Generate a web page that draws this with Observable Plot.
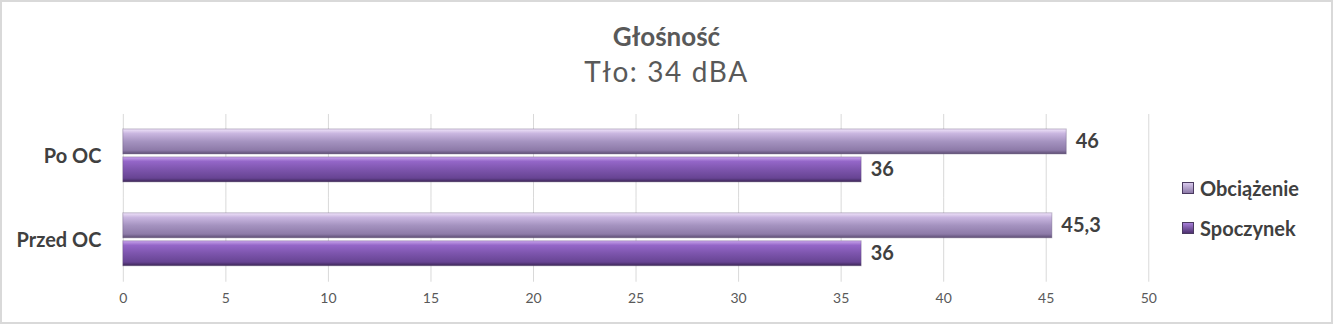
<!DOCTYPE html>
<html>
<head>
<meta charset="utf-8">
<script src="https://cdn.jsdelivr.net/npm/d3@7"></script>
<script src="https://cdn.jsdelivr.net/npm/@observablehq/plot@0.6"></script>
<style>
  body { margin: 0; background: #fff; }
  #wrap { position: relative; width: 1333px; height: 324px; box-sizing: border-box; border: 2px solid #d9d9d9; font-family: Lato, "Open Sans", sans-serif; overflow: hidden; }
  #title { position: absolute; left: 0; width: 100%; top: 18px; text-align: center; font-weight: bold; font-size: 26px; color: #595959; }
  #subtitle { position: absolute; left: 0; width: 100%; top: 52px; text-align: center; font-size: 28px; letter-spacing: 1.6px; color: #595959; }
  #chart { position: absolute; left: -2px; top: 98px; }
  #legend { position: absolute; left: 1180px; top: 166px; font-weight: bold; font-size: 20px; color: #404040; }
  .li { display: flex; align-items: center; height: 40px; }
  .sw { width: 12px; height: 12px; margin-right: 6px; border: 1px solid #4a3a60; box-sizing: border-box; }
</style>
</head>
<body>
<div id="wrap">
  <div id="title">Głośność</div>
  <div id="subtitle">Tło: 34 dBA</div>
  <div id="chart"></div>
  <div id="legend"></div>
</div>
<script>
const categories = ["Po OC", "Przed OC"];
const series = ["Obciążenie", "Spoczynek"];
const obciazenie = [46, 45.3];
const spoczynek = [36, 36];
const xTicks = [0, 5, 10, 15, 20, 25, 30, 35, 40, 45, 50];

const gradIds = {"Obciążenie": "gObc", "Spoczynek": "gSpo"};
const data = [];
categories.forEach((c, i) => {
  data.push({cat: c, series: "Obciążenie", value: obciazenie[i]});
  data.push({cat: c, series: "Spoczynek", value: spoczynek[i]});
});
const fmt = v => String(v).replace(".", ",");

const chart = Plot.plot({
  width: 1333,
  height: 226,
  marginLeft: 123,
  marginRight: 183,
  marginTop: 14,
  marginBottom: 44,
  style: {fontFamily: "Lato, 'Open Sans', sans-serif", background: "transparent"},
  x: {domain: [0, 50], ticks: xTicks, tickSize: 0, tickPadding: 12, tickFormat: d => d, label: null},
  y: {domain: series, axis: null, paddingInner: 0.1, paddingOuter: 0.5},
  fy: {domain: categories, padding: 0, label: null, tickSize: 0, tickPadding: 22},
  marks: [
    Plot.gridX(xTicks, {stroke: "#d9d9d9", strokeOpacity: 1, strokeWidth: 1}),
    Plot.axisX({ticks: xTicks, tickSize: 0, tickPadding: 11, fontSize: 14, color: "#595959", label: null}),
    Plot.axisFy({anchor: "left", tickSize: 0, tickPadding: 22, fontSize: 20, fontWeight: "bold", color: "#404040", label: null}),
    Plot.barX(data, {fy: "cat", y: "series", x1: 0, x2: "value", fill: d => `url(#${gradIds[d.series]})`, stroke: "#5a4a70", strokeOpacity: 0.35}),
    Plot.text(data, {fy: "cat", y: "series", x: "value", text: d => fmt(d.value), dx: 9, textAnchor: "start", fontSize: 20, fontWeight: "bold", fill: "#404040"})
  ]
});

// gradients for the bevelled bar look
const ns = "http://www.w3.org/2000/svg";
const defs = document.createElementNS(ns, "defs");
function grad(id, stops) {
  const g = document.createElementNS(ns, "linearGradient");
  g.setAttribute("id", id);
  g.setAttribute("x1", "0"); g.setAttribute("y1", "0");
  g.setAttribute("x2", "0"); g.setAttribute("y2", "1");
  stops.forEach(([o, c]) => {
    const s = document.createElementNS(ns, "stop");
    s.setAttribute("offset", o); s.setAttribute("stop-color", c);
    g.appendChild(s);
  });
  defs.appendChild(g);
}
grad("gObc", [["0", "#f0e4fa"], ["0.18", "#c9b6e0"], ["0.5", "#a593c0"], ["0.85", "#8d7aa8"], ["1", "#5d4d74"]]);
grad("gSpo", [["0", "#c9a4ec"], ["0.18", "#9466c8"], ["0.5", "#7d55ad"], ["0.85", "#674493"], ["1", "#3c2656"]]);
chart.insertBefore(defs, chart.firstChild);
document.getElementById("chart").appendChild(chart);

// legend
const legend = document.getElementById("legend");
const swFill = {"Obciążenie": "linear-gradient(#d8c8ec, #8d7aa8)", "Spoczynek": "linear-gradient(#a77fd8, #4f3272)"};
series.forEach(s => {
  const row = document.createElement("div");
  row.className = "li";
  const sw = document.createElement("div");
  sw.className = "sw";
  sw.style.background = swFill[s];
  const t = document.createElement("span");
  t.textContent = s;
  row.appendChild(sw); row.appendChild(t);
  legend.appendChild(row);
});
</script>
</body>
</html>
